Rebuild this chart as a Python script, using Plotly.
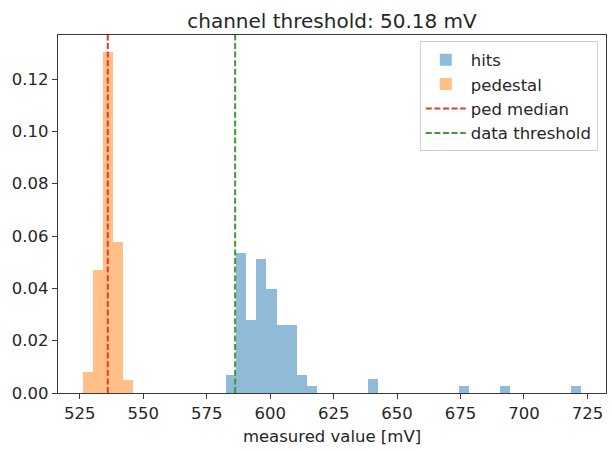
import plotly.graph_objects as go

# ---------------- data ----------------
title_text = "channel threshold: 50.18 mV"
x_label = "measured value [mV]"

# pedestal histogram (density)
ped_bin_start = 526.2
ped_bin_width = 3.94
ped_density = [0.0080, 0.0470, 0.1303, 0.0577, 0.0050]

# hits histogram (density)
hits_bin_start = 582.5
hits_bin_width = 4.0
hits_density = [0.0069, 0.0536, 0.0279, 0.0511, 0.0397, 0.0260, 0.0260, 0.0069, 0.0028,
                0.0, 0.0, 0.0, 0.0, 0.0, 0.0052, 0.0, 0.0, 0.0, 0.0, 0.0,
                0.0, 0.0, 0.0, 0.0027, 0.0, 0.0, 0.0, 0.0027, 0.0, 0.0,
                0.0, 0.0, 0.0, 0.0, 0.0027]

ped_median = 536.0
channel_threshold = 50.18
data_threshold = ped_median + channel_threshold

x_ticks = [525, 550, 575, 600, 625, 650, 675, 700, 725]
y_ticks = [0.00, 0.02, 0.04, 0.06, 0.08, 0.10, 0.12]

# ---------------- derived ----------------
hits_x = [hits_bin_start + hits_bin_width * (i + 0.5) for i in range(len(hits_density))]
ped_x = [ped_bin_start + ped_bin_width * (i + 0.5) for i in range(len(ped_density))]

data_min = ped_bin_start
data_max = hits_bin_start + hits_bin_width * len(hits_density)
span = data_max - data_min
x_range = [data_min - 0.05 * span, data_max + 0.05 * span]
y_top = max(max(ped_density), max(hits_density)) * 1.05

font_family = "DejaVu Sans, Liberation Sans, sans-serif"
text_col = "#262626"
axis_col = "#3a3a3a"
fs = 16.5

fig = go.Figure()
fig.add_trace(go.Bar(
    x=hits_x, y=hits_density, width=hits_bin_width, name="hits",
    marker=dict(color="rgba(31,119,180,0.5)", line=dict(width=0)),
    legendgroup="a",
))
fig.add_trace(go.Bar(
    x=ped_x, y=ped_density, width=ped_bin_width, name="pedestal",
    marker=dict(color="rgba(255,127,14,0.5)", line=dict(width=0)),
    legendgroup="b",
))
fig.add_trace(go.Scatter(
    x=[ped_median, ped_median], y=[0, y_top], mode="lines", name="ped median",
    line=dict(color="#e8382e", width=2, dash="6px,2.6px"),
    legendgroup="c",
))
fig.add_trace(go.Scatter(
    x=[data_threshold, data_threshold], y=[0, y_top], mode="lines", name="data threshold",
    line=dict(color="#3f9c33", width=2, dash="6px,2.6px"),
    legendgroup="d",
))

fig.update_layout(
    width=612, height=451,
    margin=dict(l=58, r=6, t=35, b=58),
    paper_bgcolor="white", plot_bgcolor="white",
    barmode="overlay", bargap=0,
    font=dict(family=font_family, size=fs, color=text_col),
    title=dict(text=title_text, x=0.5, xref="paper", xanchor="center",
               y=1, yref="paper", yanchor="bottom", pad=dict(b=7),
               font=dict(size=20, color=text_col)),
    legend=dict(x=0.985, y=0.982, xanchor="right", yanchor="top",
                bgcolor="rgba(255,255,255,0.8)", bordercolor="#d0d0d0", borderwidth=1,
                traceorder="grouped", tracegroupgap=0,
                font=dict(size=fs, color=text_col), itemwidth=40),
    showlegend=True,
)
fig.update_xaxes(
    range=x_range, tickvals=x_ticks, ticktext=[str(t) for t in x_ticks],
    showgrid=False, zeroline=False,
    showline=True, linecolor=axis_col, linewidth=1.2, mirror=True,
    ticks="outside", ticklen=5, tickwidth=1, tickcolor=axis_col,
    tickfont=dict(size=fs),
    title=dict(text=x_label, standoff=8, font=dict(size=fs)),
)
fig.update_yaxes(
    range=[0, y_top], tickvals=y_ticks, ticktext=[f"{t:.2f}" for t in y_ticks],
    showgrid=False, zeroline=False,
    showline=True, linecolor=axis_col, linewidth=1.2, mirror=True,
    ticks="outside", ticklen=5, tickwidth=1, tickcolor=axis_col,
    tickfont=dict(size=fs),
)

fig.write_html("out.html")
